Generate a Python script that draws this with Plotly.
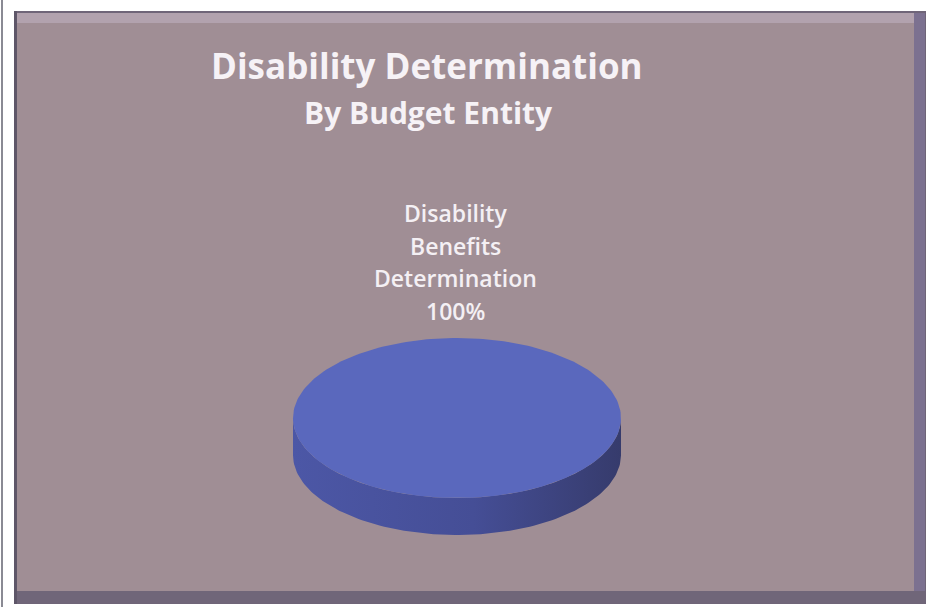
import numpy as np
import plotly.graph_objects as go

# ---- data ----
title_main = "Disability Determination"
title_sub = "By Budget Entity"
labels = ["Disability Benefits Determination"]
values = [100]
slice_colors = ["#5a68bd"]
side_colors = ["#4a54a0"]

W, H = 929, 607
# pie geometry (pixel space)
cx, cy, rx, ry, depth = 457, 418, 164, 80, 37
FONT = "Open Sans, Lato, sans-serif"

fig = go.Figure()

total = float(sum(values))
start = np.pi / 2
for lab, v, col, scol in zip(labels, values, slice_colors, side_colors):
    share = v / total
    t = np.linspace(start, start - 2 * np.pi * share, 240)
    xs = cx + rx * np.cos(t)
    ys = cy - ry * np.sin(t)
    # side wall: front (lower) half of ellipse extruded downward
    tf = np.sort(t[np.sin(t) <= 0])
    if len(tf):
        fx = cx + rx * np.cos(tf)
        fy = cy - ry * np.sin(tf)
        sx = np.concatenate([fx, fx[::-1]])
        sy = np.concatenate([fy, (fy + depth)[::-1]])
        fig.add_trace(go.Scatter(
            x=sx, y=sy, mode="lines", fill="toself",
            line=dict(width=0, color=scol),
            fillgradient=dict(type="horizontal",
                              colorscale=[[0, "#4c57a6"], [0.55, "#454e96"], [1, "#363b6c"]]),
            hoverinfo="skip", showlegend=False))
    fig.add_trace(go.Scatter(
        x=np.append(xs, cx) if share < 1 else xs,
        y=np.append(ys, cy) if share < 1 else ys,
        mode="lines", fill="toself", fillcolor=col,
        line=dict(width=0, color=col), hoverinfo="skip", showlegend=False))
    lines = lab.split(" ") + [f"{round(share * 100)}%"]
    for i, ln in enumerate(lines):
        fig.add_annotation(
            x=cx - 2, y=213 + 32.5 * i, xref="x", yref="y", showarrow=False, text=ln,
            font=dict(family=FONT, size=23, color="#f4f0f4", weight=600),
            yanchor="middle")

# titles
fig.add_annotation(x=427, y=65, xref="x", yref="y", showarrow=False, text=title_main,
                   font=dict(family=FONT, size=35, color="#f6f2f6", weight=700), yanchor="middle")
fig.add_annotation(x=428, y=112, xref="x", yref="y", showarrow=False, text=title_sub,
                   font=dict(family=FONT, size=30, color="#f6f2f6", weight=700), yanchor="middle")

shapes = [
    # scanned page edge line
    dict(type="line", x0=2, x1=2, y0=0, y1=H, line=dict(color="#8a8a94", width=2)),
    # frame base
    dict(type="rect", x0=14, x1=926, y0=11, y1=604, line=dict(width=0), fillcolor="#6f6578", layer="below"),
    dict(type="rect", x0=16, x1=914, y0=13, y1=591, line=dict(width=0), fillcolor="#a08e95", layer="below"),
    # top bevel
    dict(type="rect", x0=16, x1=914, y0=13, y1=23, line=dict(width=0), fillcolor="#b2a2ae", layer="below"),
    # right bevel
    dict(type="rect", x0=914, x1=925, y0=13, y1=603, line=dict(width=0), fillcolor="#7c7190", layer="below"),
    # bottom bevel
    dict(type="rect", x0=16, x1=925, y0=591, y1=603, line=dict(width=0), fillcolor="#706679", layer="below"),
    # left dark edge
    dict(type="rect", x0=14, x1=17, y0=11, y1=604, line=dict(width=0), fillcolor="#5e5668", layer="below"),
]

fig.update_layout(
    width=W, height=H, margin=dict(l=0, r=0, t=0, b=0),
    paper_bgcolor="#ffffff", plot_bgcolor="rgba(0,0,0,0)",
    xaxis=dict(range=[0, W], visible=False, fixedrange=True),
    yaxis=dict(range=[H, 0], visible=False, fixedrange=True),
    shapes=shapes, showlegend=False,
)

fig.write_html("out.html", config={"displayModeBar": False},
               post_script="document.body.style.margin='0';document.body.style.overflow='hidden';")
